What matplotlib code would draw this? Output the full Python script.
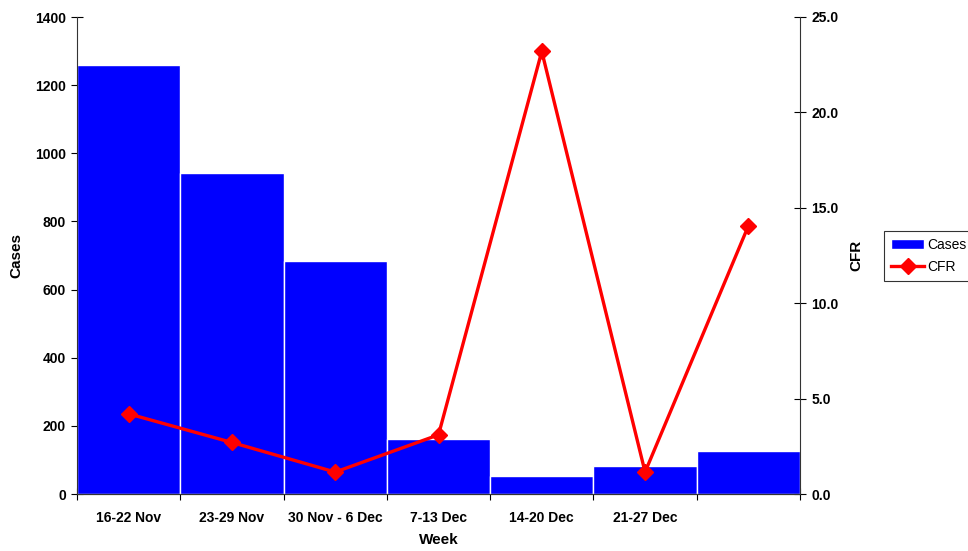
import numpy as np
import matplotlib.pyplot as plt
from matplotlib.ticker import FormatStrFormatter

plt.rcParams['font.family'] = ['Liberation Sans', 'DejaVu Sans']

weeks = ['16-22 Nov', '23-29 Nov', '30 Nov - 6 Dec', '7-13 Dec',
         '14-20 Dec', '21-27 Dec', '']
cases = [1260, 942, 684, 161, 53, 82, 126]
cfr = [4.2, 2.7, 1.15, 3.1, 23.2, 1.15, 14.05]

x = np.arange(len(weeks))

fig = plt.figure(figsize=(9.68, 5.51), dpi=100)
ax = fig.add_axes([77 / 968, 1 - 494 / 551, 723 / 968, 477 / 551])
ax2 = ax.twinx()

bars = ax.bar(x, cases, width=1.0, color='#0000FF', edgecolor='white',
              linewidth=1.0, label='Cases', zorder=2)
line, = ax2.plot(x, cfr, color='#FF0000', lw=2.4, marker='D', ms=8.5,
                 label='CFR', zorder=3)

ax.set_xlim(-0.5, len(weeks) - 0.5)
ax.set_ylim(0, 1400)
ax.set_yticks(range(0, 1401, 200))
ax2.set_ylim(0, 25)
ax2.set_yticks(np.arange(0, 25.1, 5))
ax2.yaxis.set_major_formatter(FormatStrFormatter('%.1f'))

# tick marks sit between categories, labels in the middle of each slot
ax.set_xticks(np.arange(-0.5, len(weeks)), labels=[''] * (len(weeks) + 1))
ax.set_xticks(x, labels=weeks, minor=True)
ax.tick_params(axis='x', which='minor', length=0, pad=12)
ax.tick_params(axis='x', which='major', direction='inout', length=8)
ax.tick_params(axis='y', direction='inout', length=8, pad=4)
ax2.tick_params(axis='y', direction='inout', length=8, pad=4)

for a in (ax, ax2):
    a.spines['top'].set_visible(False)
    for s in a.spines.values():
        s.set_color('#333333')
ax2.spines['left'].set_visible(False)
ax.spines['right'].set_visible(False)

for lbl in ax.get_xticklabels(minor=True) + ax.get_yticklabels() + ax2.get_yticklabels():
    lbl.set_fontweight('bold')
    lbl.set_fontsize(10)

ax.set_xlabel('Week', fontsize=11, fontweight='bold', labelpad=6)
ax.set_ylabel('Cases', fontsize=11, fontweight='bold', labelpad=8)
ax2.set_ylabel('CFR', fontsize=11, fontweight='bold', labelpad=8)

leg = fig.legend(handles=[bars, line], labels=['Cases', 'CFR'],
                 loc='upper left', bbox_to_anchor=(884 / 968, 1 - 231 / 551),
                 borderaxespad=0, fontsize=10, frameon=True, fancybox=False,
                 edgecolor='black', handlelength=2.4, borderpad=0.5,
                 labelspacing=0.55, handletextpad=0.2)
leg.get_frame().set_linewidth(0.8)

fig.savefig('out.png', dpi=100)
